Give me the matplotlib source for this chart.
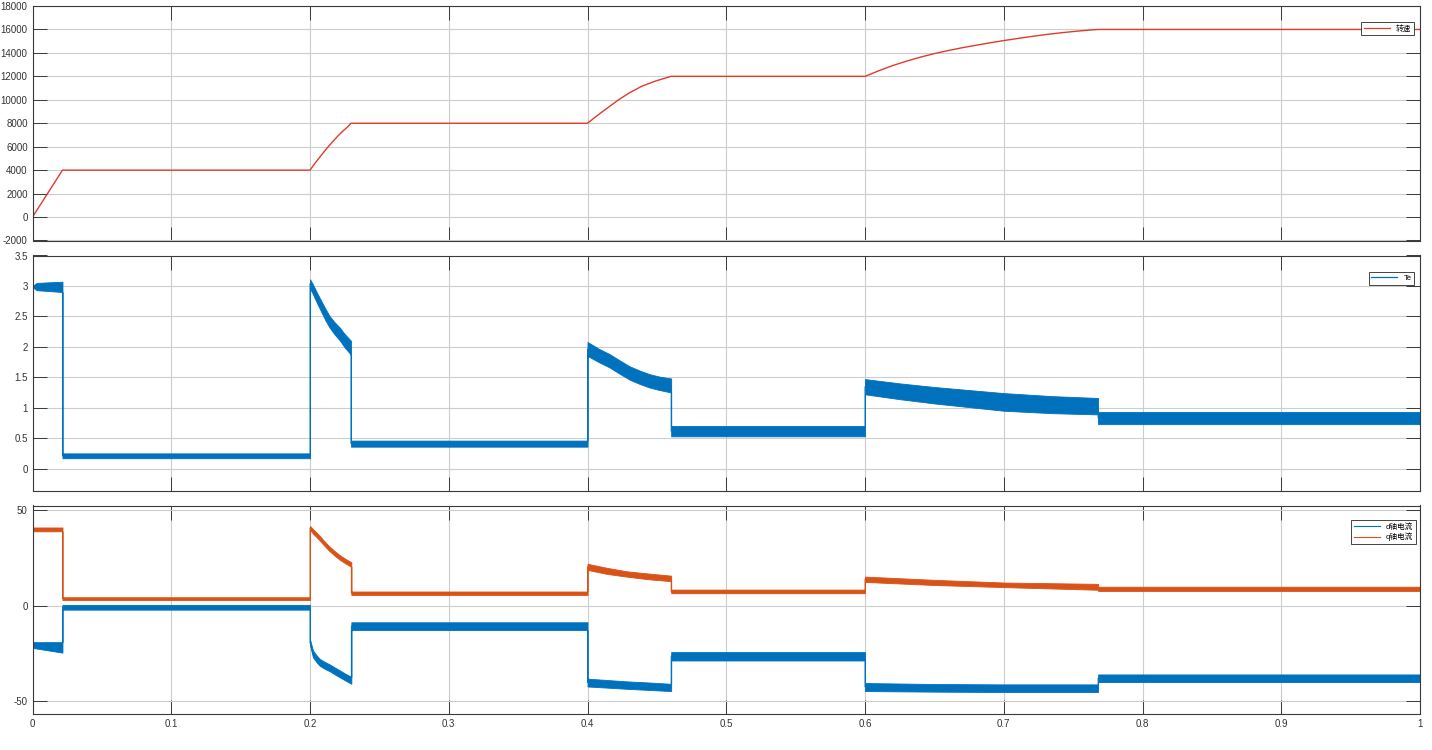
import matplotlib
matplotlib.use('Agg')
import matplotlib.pyplot as plt
from matplotlib.lines import Line2D

# ---------------- data ----------------
# speed (转速)
spd_t = [0, 0.0216, 0.2, 0.2025, 0.205, 0.2075, 0.21, 0.2125, 0.215, 0.2175, 0.22,
         0.2225, 0.225, 0.2275, 0.2295,
         0.4, 0.405, 0.411, 0.417, 0.4224, 0.43, 0.439, 0.449, 0.4603,
         0.6, 0.61, 0.62, 0.63, 0.64, 0.65, 0.66, 0.67, 0.68, 0.69, 0.7,
         0.71, 0.72, 0.73, 0.74, 0.75, 0.76, 0.768, 1.0]
spd_v = [0, 4000, 4000, 4410, 4800, 5180, 5550, 5910, 6250, 6580, 6900,
         7200, 7470, 7730, 8000,
         8000, 8470, 9010, 9530, 10000, 10580, 11150, 11600, 12000,
         12000, 12480, 12920, 13300, 13640, 13940, 14200, 14440, 14650, 14860, 15050,
         15230, 15400, 15560, 15700, 15820, 15930, 16000, 16000]

# electromagnetic torque Te: ripple band (upper / lower envelope)
te_t = [0, 0, 0.003, 0.0216, 0.0216, 0.2, 0.2,
        0.202, 0.205, 0.208, 0.211, 0.214, 0.2175, 0.2213, 0.225, 0.2295,
        0.2295, 0.4, 0.4,
        0.408, 0.416, 0.423, 0.4304, 0.4376, 0.4449, 0.452, 0.4603,
        0.4603, 0.6, 0.6, 0.625, 0.65, 0.675, 0.7, 0.735, 0.768, 0.768, 1.0]
te_hi = [0, 3.0, 3.05, 3.07, 0.25, 0.25, 3.11,
         3.03, 2.89, 2.76, 2.63, 2.51, 2.41, 2.32, 2.21, 2.10,
         0.46, 0.46, 2.08,
         1.97, 1.88, 1.78, 1.68, 1.61, 1.55, 1.51, 1.48,
         0.70, 0.70, 1.47, 1.40, 1.34, 1.29, 1.24, 1.19, 1.16, 0.93, 0.93]
te_lo = [0, 2.98, 2.93, 2.90, 0.17, 0.17, 2.96,
         2.87, 2.72, 2.58, 2.44, 2.32, 2.21, 2.11, 1.99, 1.87,
         0.36, 0.36, 1.85,
         1.75, 1.66, 1.56, 1.46, 1.39, 1.33, 1.29, 1.25,
         0.53, 0.53, 1.22, 1.14, 1.07, 1.01, 0.95, 0.91, 0.89, 0.73, 0.73]

# d / q axis currents: ripple band (upper / lower envelope)
cur_t = [0, 0, 0.0216, 0.0216, 0.2, 0.2,
         0.2021, 0.2045, 0.2069, 0.2105, 0.2141, 0.2177, 0.2213, 0.2255, 0.2298,
         0.2298, 0.4, 0.4, 0.414, 0.428, 0.444, 0.4603, 0.4603, 0.6,
         0.6, 0.65, 0.7, 0.768, 0.768, 1.0]
iq_hi = [0, 41, 41, 4.5, 4.5, 41.8,
         40.2, 38.5, 36.7, 33.7, 31.0, 28.7, 26.6, 24.6, 22.8,
         7.5, 7.5, 22.0, 19.9, 18.1, 16.9, 15.8, 8.5, 8.5,
         15.3, 13.6, 12.2, 11.5, 10.0, 10.0]
iq_lo = [0, 39, 39, 3.0, 3.0, 39.8,
         37.8, 36.1, 34.3, 31.3, 28.6, 26.3, 24.2, 22.2, 20.4,
         5.7, 5.7, 18.8, 16.7, 15.3, 13.9, 12.9, 6.6, 6.6,
         12.5, 10.9, 9.8, 8.4, 7.8, 7.8]
id_hi = [0, -19, -19, 0.5, 0.5, -17.5,
         -23.3, -25.7, -27.7, -29.3, -30.6, -32.2, -33.7, -35.5, -37.2,
         -8.6, -8.6, -38.1, -38.8, -39.5, -40.1, -40.8, -24.2, -24.2,
         -40.4, -40.9, -41.1, -41.1, -35.9, -35.9]
id_lo = [0, -22, -24.5, -2, -2, -20.5,
         -26.9, -29.3, -31.3, -32.9, -34.2, -35.8, -37.3, -39.1, -40.8,
         -12.7, -12.7, -42.2, -42.8, -43.4, -44.0, -44.6, -28.6, -28.6,
         -44.6, -44.9, -45.1, -45.1, -39.9, -39.9]

# ticks and labels
x_ticks = [0, 0.1, 0.2, 0.3, 0.4, 0.5, 0.6, 0.7, 0.8, 0.9, 1.0]
x_tick_labels = ['0', '0.1', '0.2', '0.3', '0.4', '0.5', '0.6', '0.7', '0.8', '0.9', '1']
spd_ticks = [-2000, 0, 2000, 4000, 6000, 8000, 10000, 12000, 14000, 16000, 18000]
spd_tick_labels = ['-2000', '0', '2000', '4000', '6000', '8000', '10000', '12000',
                   '14000', '16000', '18000']
te_ticks = [0, 0.5, 1, 1.5, 2, 2.5, 3, 3.5]
te_tick_labels = ['0', '0.5', '1', '1.5', '2', '2.5', '3', '3.5']
cur_ticks = [-50, 0, 50]
cur_tick_labels = ['-50', '0', '50']
spd_label = '转速'
te_label = 'Te'
id_label = 'd轴电流'
iq_label = 'q轴电流'

# ---------------- style ----------------
plt.rcParams['font.family'] = ['Liberation Sans', 'Noto Sans CJK SC', 'DejaVu Sans']
plt.rcParams['axes.unicode_minus'] = False

RED = '#DE3B2B'
BLUE = '#0072BD'
ORANGE = '#D95319'
AX_COL = '#3a3a3a'
GRID_COL = '#cdcdcd'

W, H = 1432, 750
fig = plt.figure(figsize=(W / 100, H / 100), dpi=100)


def ax_at(l, t, r, b):
    return fig.add_axes([l / W, 1 - b / H, (r - l) / W, (b - t) / H])


ax1 = ax_at(32.5, 6, 1420, 240.5)
ax2 = ax_at(32.5, 255.5, 1420, 490.5)
ax3 = ax_at(32.5, 505.5, 1420, 714)


def style(ax, yt, ytl, ylim, show_x):
    ax.set_xlim(0, 1)
    ax.set_ylim(*ylim)
    ax.set_xticks(x_ticks)
    ax.set_xticklabels(x_tick_labels if show_x else [])
    ax.set_yticks(yt)
    ax.set_yticklabels(ytl)
    ax.grid(True, color=GRID_COL, lw=0.8)
    ax.set_axisbelow(True)
    ax.tick_params(direction='in', length=10, width=0.7, colors=AX_COL,
                   labelsize=7, pad=3.5, top=True, right=True,
                   labelcolor='#333333')
    for s in ax.spines.values():
        s.set_color(AX_COL)
        s.set_linewidth(0.8)


def leg(ax, handles, labels, top_px, right_px, ax_h):
    lg = ax.legend(handles=handles, labels=labels, loc='upper right',
                   bbox_to_anchor=(1 - right_px / 1387.5, 1 - top_px / ax_h),
                   borderaxespad=0, fontsize=5.5, frameon=True, fancybox=False,
                   edgecolor='#262626', framealpha=1, handlelength=3.4,
                   handletextpad=0.8, borderpad=0.35, labelspacing=0.25)
    lg.get_frame().set_linewidth(0.6)


# top: speed
style(ax1, spd_ticks, spd_tick_labels, (-2000, 18000), False)
ax1.plot(spd_t, spd_v, color=RED, lw=1.0)
leg(ax1, [Line2D([], [], color=RED, lw=0.9)], [spd_label], 16, 6, 234.5)

# middle: Te
style(ax2, te_ticks, te_tick_labels, (-0.36, 3.5), False)
te_mid = [(a + b) / 2 for a, b in zip(te_hi, te_lo)]
ax2.fill_between(te_t, te_lo, te_hi, color=BLUE, lw=0.6, edgecolor=BLUE)
ax2.plot(te_t, te_mid, color=BLUE, lw=0.7)
leg(ax2, [Line2D([], [], color=BLUE, lw=0.9)], [te_label], 16.5, 6, 235)

# bottom: currents
style(ax3, cur_ticks, cur_tick_labels, (-56.6, 52.5), True)
id_mid = [(a + b) / 2 for a, b in zip(id_hi, id_lo)]
iq_mid = [(a + b) / 2 for a, b in zip(iq_hi, iq_lo)]
ax3.fill_between(cur_t, id_lo, id_hi, color=BLUE, lw=0.6, edgecolor=BLUE)
ax3.plot(cur_t, id_mid, color=BLUE, lw=0.7)
ax3.fill_between(cur_t, iq_lo, iq_hi, color=ORANGE, lw=0.6, edgecolor=ORANGE)
ax3.plot(cur_t, iq_mid, color=ORANGE, lw=0.7)
leg(ax3, [Line2D([], [], color=BLUE, lw=0.8), Line2D([], [], color=ORANGE, lw=0.8)],
    [id_label, iq_label], 14.5, 4, 208.5)

fig.savefig('out.png', dpi=100, facecolor='white')
